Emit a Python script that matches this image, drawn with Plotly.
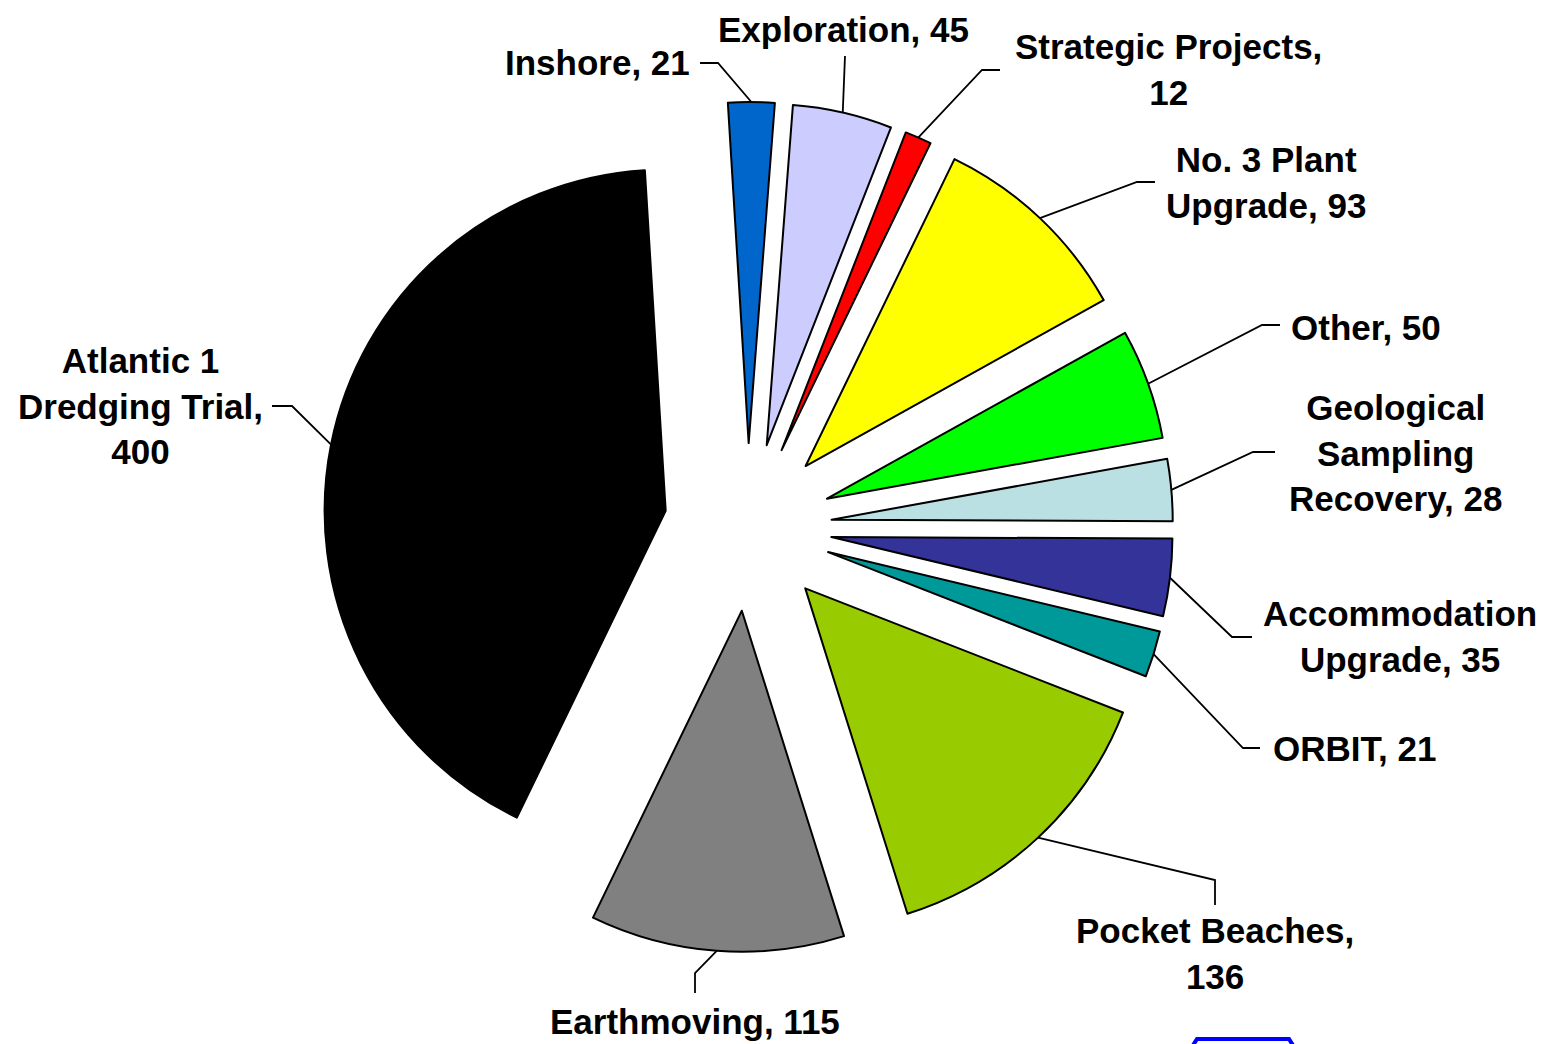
import math
import plotly.graph_objects as go

# ---------------- data ----------------
labels = ["Inshore", "Exploration", "Strategic Projects", "No. 3 Plant Upgrade", "Other",
          "Geological Sampling Recovery", "Accommodation Upgrade", "ORBIT",
          "Pocket Beaches", "Earthmoving", "Atlantic 1 Dredging Trial"]
values = [21, 45, 12, 93, 50, 28, 35, 21, 136, 115, 400]
label_texts = ["Inshore, 21", "Exploration, 45", "Strategic Projects,<br>12",
               "No. 3 Plant<br>Upgrade, 93", "Other, 50",
               "Geological<br>Sampling<br>Recovery, 28", "Accommodation<br>Upgrade, 35",
               "ORBIT, 21", "Pocket Beaches,<br>136", "Earthmoving, 115",
               "Atlantic 1<br>Dredging Trial,<br>400"]
colors = ["#0066CC", "#CCCCFF", "#FF0000", "#FFFF00", "#00FF00", "#BBE0E3",
          "#333399", "#009999", "#99CC00", "#808080", "#000000"]

# ---------------- layout geometry ----------------
VW, VH = 1558, 1044          # browser viewport
OFF = 8                       # default page body margin
W, H = VW - OFF, VH - OFF     # figure size
CX, CY, HALF = 748, 527, 425  # pie centre and outer extent (viewport px)
PULL = 0.246
ROTATION = -3.5

# label placement (viewport px): text centre, elbow point, end of leader next to text
label_pos = [
    ((597, 63), (718, 63), (700, 63)),
    ((843, 29), (845, 56), (845, 56)),
    ((1168, 70), (982, 70), (1000, 70)),
    ((1266, 182), (1137, 182), (1155, 182)),
    ((1366, 327), (1262, 325), (1280, 325)),
    ((1395, 453), (1253, 452), (1275, 452)),
    ((1400, 636), (1232, 637), (1252, 637)),
    ((1354, 748), (1243, 748), (1260, 748)),
    ((1215, 953), (1215, 880), (1215, 905)),
    ((695, 1021), (695, 973), (695, 993)),
    ((140, 406), (292, 406), (272, 406)),
]


def px2paper(x, y):
    return (x - OFF) / W, 1 - (y - OFF) / H


dom_x = [px2paper(CX - HALF, 0)[0], px2paper(CX + HALF, 0)[0]]
dom_y = [px2paper(0, CY + HALF)[1], px2paper(0, CY - HALF)[1]]

fig = go.Figure(go.Pie(
    labels=labels, values=values, sort=False, direction="clockwise",
    rotation=ROTATION, pull=PULL, textinfo="none", hoverinfo="label+value",
    marker=dict(colors=colors, line=dict(color="#000000", width=2)),
    domain=dict(x=dom_x, y=dom_y), showlegend=False,
))

total = sum(values)
cum = 0.0
shapes = []
annotations = []
for v, txt, (tc, el, en) in zip(values, label_texts, label_pos):
    mid = ROTATION + 360.0 * (cum + v / 2) / total
    cum += v
    a = math.radians(mid)
    sx = CX + HALF * math.sin(a)
    sy = CY - HALF * math.cos(a)
    p0 = px2paper(sx, sy)
    p1 = px2paper(*el)
    p2 = px2paper(*en)
    shapes.append(dict(type="path", xref="paper", yref="paper",
                       path=f"M{p0[0]},{p0[1]} L{p1[0]},{p1[1]} L{p2[0]},{p2[1]}",
                       line=dict(color="#000000", width=1.8)))
    tx, ty = px2paper(*tc)
    annotations.append(dict(x=tx, y=ty, xref="paper", yref="paper", text=txt,
                            showarrow=False, xanchor="center", yanchor="middle",
                            align="center", borderpad=0,
                            font=dict(family="Liberation Sans, Arial", size=35,
                                      color="#000000", weight="bold")))

# partial logo cut off at bottom edge
l0 = px2paper(1190, 1050)
l1 = px2paper(1197, 1039)
l2 = px2paper(1289, 1039)
l3 = px2paper(1296, 1050)
shapes.append(dict(type="path", xref="paper", yref="paper",
                   path=f"M{l0[0]},{l0[1]} L{l1[0]},{l1[1]} L{l2[0]},{l2[1]} L{l3[0]},{l3[1]}",
                   line=dict(color="#0000FF", width=4)))

fig.update_layout(
    width=W, height=H, margin=dict(l=0, r=0, t=0, b=0),
    paper_bgcolor="#FFFFFF", plot_bgcolor="#FFFFFF",
    shapes=shapes, annotations=annotations,
)

fig.write_html("out.html")
